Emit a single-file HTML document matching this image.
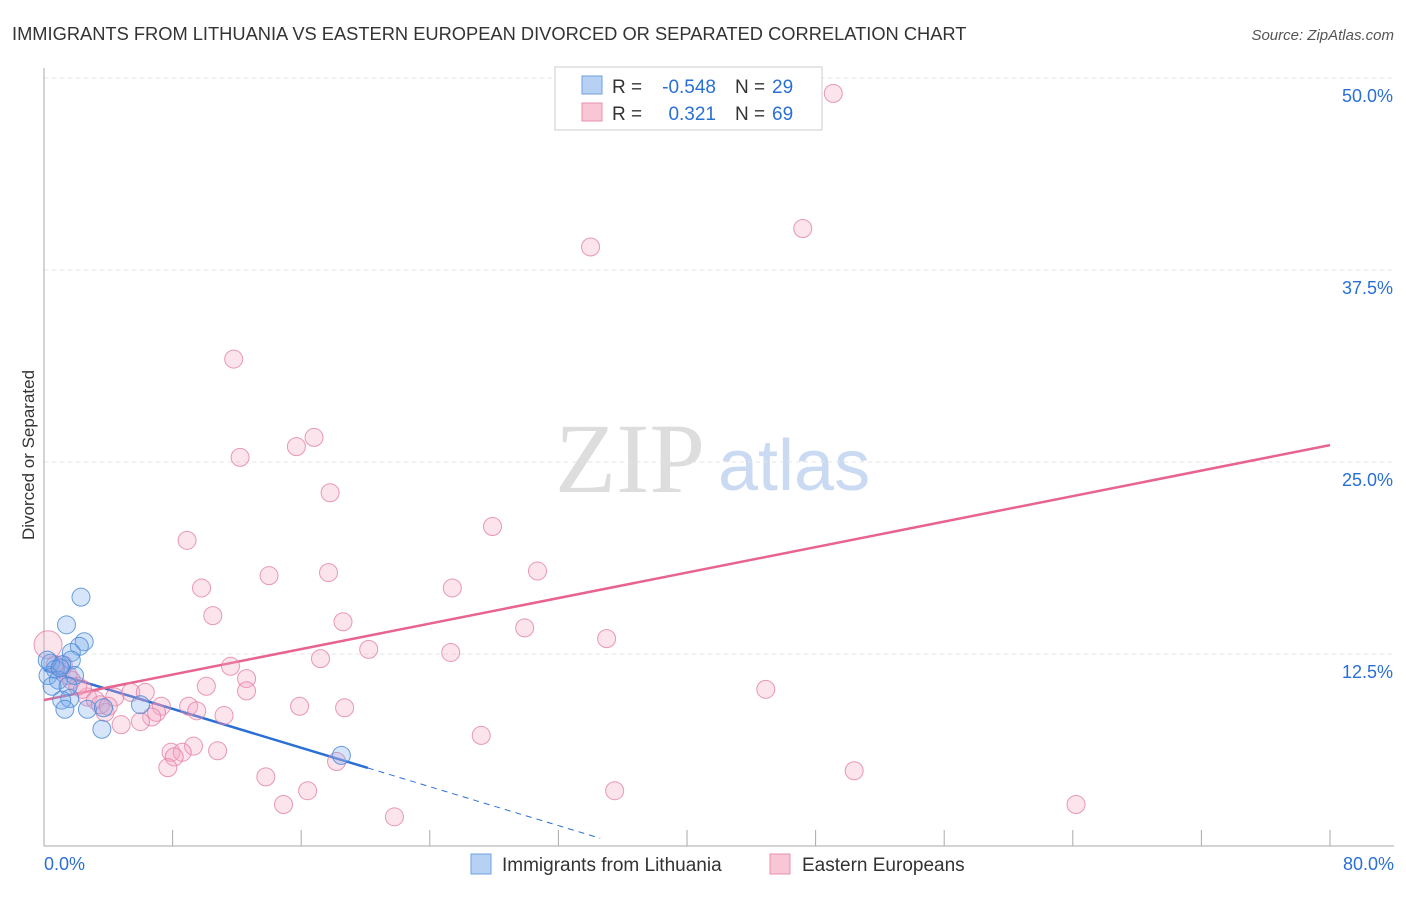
<!DOCTYPE html>
<html><head><meta charset="utf-8"><style>
body{margin:0;background:#fff;font-family:"Liberation Sans",sans-serif}
</style></head><body>
<svg width="1406" height="892" xmlns="http://www.w3.org/2000/svg" font-family="Liberation Sans, sans-serif">
<text x="12" y="40" font-size="18.3" fill="#333">IMMIGRANTS FROM LITHUANIA VS EASTERN EUROPEAN DIVORCED OR SEPARATED CORRELATION CHART</text>
<text x="1394" y="40" font-size="15" fill="#555" font-style="italic" text-anchor="end">Source: ZipAtlas.com</text>
<text x="555" y="492" font-size="100" fill="#ddd" font-family="Liberation Serif, serif">ZIP</text>
<text x="718" y="490" font-size="72" fill="#c9daf2">atlas</text>
<g id="grid"></g>
<g id="axes"></g>
<text transform="translate(34,455) rotate(-90)" font-size="17" fill="#333" text-anchor="middle">Divorced or Separated</text>
<g id="lines"></g>
<g id="pts"></g>
<g>
<rect x="555" y="67" width="267" height="63" fill="#fff" stroke="#ccc"/>
<rect x="582" y="76" width="20" height="18" fill="#b7d1f5" stroke="#6f9fe0"/>
<rect x="582" y="103" width="20" height="18" fill="#f9c6d6" stroke="#e891ae"/>
<text x="612" y="93" font-size="19" fill="#333">R =</text>
<text x="716" y="93" font-size="19" fill="#2a6fd6" text-anchor="end">-0.548</text>
<text x="735" y="93" font-size="19" fill="#333">N =</text>
<text x="772" y="93" font-size="19" fill="#2a6fd6">29</text>
<text x="612" y="120" font-size="19" fill="#333">R =</text>
<text x="716" y="120" font-size="19" fill="#2a6fd6" text-anchor="end">0.321</text>
<text x="735" y="120" font-size="19" fill="#333">N =</text>
<text x="772" y="120" font-size="19" fill="#2a6fd6">69</text>
</g>
<g>
<rect x="471" y="854" width="20" height="20" fill="#b7d1f5" stroke="#6f9fe0"/>
<text x="502" y="871" font-size="19" fill="#333">Immigrants from Lithuania</text>
<rect x="770" y="854" width="20" height="20" fill="#f9c6d6" stroke="#e891ae"/>
<text x="802" y="871" font-size="19" fill="#333">Eastern Europeans</text>
</g>
</svg>
<script>
const xTickLabels=["0.0%","80.0%"];
const yTicks=[12.5,25,37.5,50];
const yTickLabels=["12.5%","25.0%","37.5%","50.0%"];
const blueX=[2.3,1.4,2.5,2.2,1.7,1.7,0.4,1.1,0.7,0.25,1.9,0.9,0.5,1.5,1.6,1.1,1.3,2.7,3.7,6.0,3.6,18.5,0.2,1.0];
const blueY=[16.2,14.4,13.3,13.0,12.6,12.1,11.9,11.8,11.5,11.1,11.1,10.8,10.4,10.4,9.6,9.5,8.9,8.9,9.0,9.2,7.6,5.9,12.1,11.6];
const pinkX=[49.1,34.0,47.2,11.8,12.2,15.7,16.8,17.8,8.9,27.9,14.0,17.7,30.7,9.8,25.4,10.5,18.6,29.9,35.0,17.2,20.2,25.3,11.6,12.6,12.6,10.1,44.9,5.4,6.3,4.4,2.7,15.9,18.7,9.0,7.3,9.5,7.0,3.8,6.7,11.2,4.8,6.0,27.2,9.3,10.8,7.9,8.6,8.1,18.2,7.7,50.4,13.8,16.4,35.5,14.9,64.2,21.8,0.25,0.7,1.1,1.7,2.1,2.4,1.5,3.2,3.5,4.0,1.2];
const pinkY=[49.0,39.0,40.2,31.7,25.3,26.0,26.6,23.0,19.9,20.8,17.6,17.8,17.9,16.8,16.8,15.0,14.6,14.2,13.5,12.2,12.8,12.6,11.7,10.9,10.1,10.4,10.2,10.0,10.0,9.7,9.7,9.1,9.0,9.1,9.1,8.8,8.7,8.7,8.4,8.5,7.9,8.1,7.2,6.5,6.2,6.1,6.1,5.8,5.5,5.1,4.9,4.5,3.6,3.6,2.7,2.7,1.9,13.1,11.8,11.5,10.8,10.4,10.2,11.1,9.5,9.2,9.1,11.8];
const blueTrend=[11.46,-0.3166];
const pinkTrend=[9.5,0.2075];
const NS="http://www.w3.org/2000/svg";
const X=v=>44+v/80*1286, Y=v=>846-v/12.5*192;
function mk(t,a,p){const e=document.createElementNS(NS,t);for(const k in a)e.setAttribute(k,a[k]);document.getElementById(p).appendChild(e);return e;}
yTicks.forEach((t,i)=>{
 const g=mk('line',{x1:44,x2:1394,y1:Y(t),y2:Y(t),stroke:'#e4e4e4','stroke-dasharray':'4,4'},'grid');
 
 
 const l=mk('text',{x:1393,y:Y(t)+24,'font-size':18,fill:'#2a6fd6','text-anchor':'end'},'grid');
 l.textContent=yTickLabels[i];
 
 
});
mk('line',{x1:44,x2:44,y1:68,y2:846,stroke:'#aaa'},'axes');
mk('line',{x1:44,x2:1394,y1:846,y2:846,stroke:'#aaa'},'axes');
for(let i=1;i<=10;i++){const t=mk('line',{x1:X(i*8),x2:X(i*8),y1:830,y2:846,stroke:'#aaa'},'axes');
 
 }
[[0,'start',44],[80,'end',1394]].forEach((d,i)=>{const l=mk('text',{x:d[2],y:870,'font-size':18,fill:'#2a6fd6','text-anchor':d[1]},'axes');l.textContent=xTickLabels[i];
 
 });
pinkX.forEach((x,i)=>{const c=mk('circle',{cx:X(x),cy:Y(pinkY[i]),r:i==57?14:9,fill:'rgba(244,165,195,0.3)',stroke:'rgba(226,120,160,0.75)','stroke-width':1},'pts');
 
 });
blueX.forEach((x,i)=>{const c=mk('circle',{cx:X(x),cy:Y(blueY[i]),r:9,fill:'rgba(120,170,235,0.3)',stroke:'rgba(70,135,215,0.8)','stroke-width':1},'pts');
 
 });
const bl=mk('line',{x1:X(0),y1:Y(blueTrend[0]),x2:X(20.15),y2:Y(blueTrend[0]+blueTrend[1]*20.15),stroke:'#2a6fd6','stroke-width':2.5},'lines');


const bd=mk('line',{x1:X(20.15),y1:Y(blueTrend[0]+blueTrend[1]*20.15),x2:X(34.6),y2:Y(blueTrend[0]+blueTrend[1]*34.6),stroke:'#2a6fd6','stroke-width':1,'stroke-dasharray':'6,5'},'lines');


const pl=mk('line',{x1:X(0),y1:Y(pinkTrend[0]),x2:X(80),y2:Y(pinkTrend[0]+pinkTrend[1]*80),stroke:'#e8638f','stroke-width':2.5},'lines');


</script>
</body></html>
